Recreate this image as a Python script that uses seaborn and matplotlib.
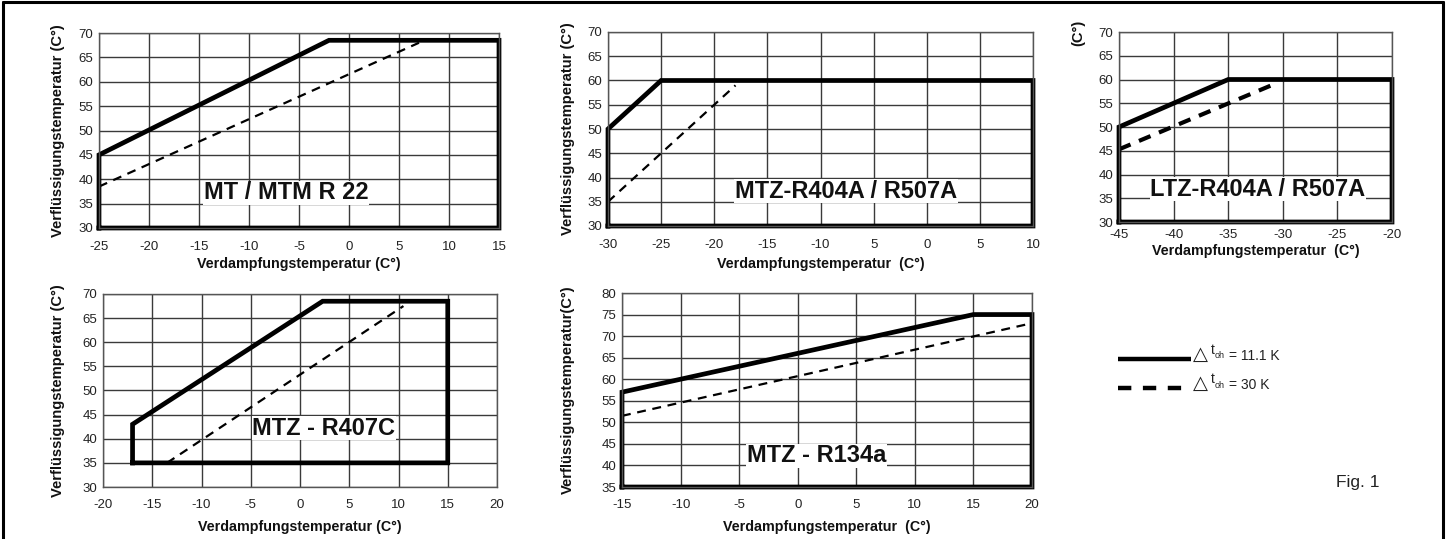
import matplotlib
matplotlib.use("Agg")
import matplotlib.pyplot as plt
from matplotlib.lines import Line2D
import seaborn as sns
import numpy as np

# ---------------- data ----------------
r22_solid_x = [-25, -25, -2, 15, 15, -25]
r22_solid_y = [30, 45, 68.5, 68.5, 30, 30]
r22_dash_x = [-25, 7]
r22_dash_y = [38.5, 68]

mtz404_solid_x = [-30, -30, -25, 10, 10, -30]
mtz404_solid_y = [30, 50, 60, 60, 30, 30]
mtz404_dash_x = [-30, -18]
mtz404_dash_y = [35, 59]

ltz404_solid_x = [-45, -45, -35, -20, -20, -45]
ltz404_solid_y = [30, 50, 60, 60, 30, 30]
ltz404_dash_x = [-45, -30.5]
ltz404_dash_y = [45.3, 59.3]

r407c_solid_x = [-17, -17, 2.3, 15, 15, -17]
r407c_solid_y = [35, 43, 68.5, 68.5, 35, 35]
r407c_dash_x = [-13.5, 10.5]
r407c_dash_y = [35, 67.5]

r134a_solid_x = [-15, -15, 15, 20, 20, -15]
r134a_solid_y = [35, 57, 75, 75, 35, 35]
r134a_dash_x = [-15, 20]
r134a_dash_y = [51.5, 73]

titles = ["MT / MTM R 22", "MTZ-R404A / R507A", "LTZ-R404A / R507A",
          "MTZ - R407C", "MTZ - R134a"]
xticks_r22 = list(range(-25, 16, 5))
xticks_404 = list(range(-30, 11, 5))
xticklabels_404 = ["-30", "-25", "-20", "-15", "-10", "5", "0", "5", "10"]
xticks_ltz = list(range(-45, -19, 5))
xticks_407 = list(range(-20, 21, 5))
xticks_134 = list(range(-15, 21, 5))
yticks_70 = list(range(30, 71, 5))
yticks_80 = list(range(35, 81, 5))

xlabel = "Verdampfungstemperatur (C°)"
xlabel_wide = "Verdampfungstemperatur  (C°)"
ylabel = "Verflüssigungstemperatur (C°)"
ylabel_tight = "Verflüssigungstemperatur(C°)"
legend_labels = ["= 11.1 K", "= 30 K"]

# ---------------- style ----------------
sns.set_style("white")
plt.rcParams["font.family"] = ["Liberation Sans", "DejaVu Sans"]
plt.rcParams["axes.unicode_minus"] = False

W, H = 1451, 539
fig = plt.figure(figsize=(W / 100, H / 100), dpi=100)


def add_ax(l, r, t, b):
    return fig.add_axes([l / W, 1 - b / H, (r - l) / W, (b - t) / H])


def style_ax(ax, xlim, ylim, xt, yt, xtl=None, xlab=xlabel, ylab=ylabel,
             xlab_off=29, ylab_off=34, xpad=9):
    ax.set_xlim(*xlim)
    ax.set_ylim(*ylim)
    ax.set_xticks(xt)
    ax.set_yticks(yt)
    if xtl is not None:
        ax.set_xticklabels(xtl)
    ax.grid(True, color="#3a3a3a", lw=1.0)
    ax.set_axisbelow(True)
    for s in ax.spines.values():
        s.set_color("#555555")
        s.set_linewidth(1.0)
    ax.tick_params(length=0, labelsize=9.5, colors="#222222")
    ax.tick_params(axis="x", pad=xpad)
    ax.tick_params(axis="y", pad=4)
    bb = ax.get_position()
    hpx = bb.height * H
    wpx = bb.width * W
    ax.set_xlabel(xlab, fontsize=10.3, fontweight="bold", color="#111111")
    ax.xaxis.set_label_coords(0.5, -xlab_off / hpx)
    if ylab:
        ax.set_ylabel(ylab, fontsize=10.6, fontweight="bold", color="#111111")
        ax.yaxis.set_label_coords(-ylab_off / wpx, 0.5)
    else:
        ax.set_ylabel("")


def draw(ax, sx, sy, dx, dy, dlw=1.6, dpat=(4, 3)):
    sns.lineplot(x=sx, y=sy, sort=False, estimator=None, ax=ax, color="black",
                 lw=3.4, clip_on=False, solid_joinstyle="miter",
                 solid_capstyle="projecting")
    sns.lineplot(x=dx, y=dy, sort=False, estimator=None, ax=ax, color="black",
                 lw=dlw, linestyle=(0, dpat), clip_on=False)


def title(ax, x, y, s):
    ax.text(x, y, s, fontsize=17, fontweight="bold", ha="center", va="center",
            color="#111111", zorder=5,
            bbox=dict(facecolor="white", edgecolor="none", pad=0.3))


# Panel 1
ax1 = add_ax(99, 499, 33, 228)
draw(ax1, r22_solid_x, r22_solid_y, r22_dash_x, r22_dash_y)
style_ax(ax1, (-25, 15), (30, 70), xticks_r22, yticks_70, xlab_off=29)
title(ax1, -6.3, 37.2, titles[0])

# Panel 2
ax2 = add_ax(608, 1033, 32, 226)
draw(ax2, mtz404_solid_x, mtz404_solid_y, mtz404_dash_x, mtz404_dash_y)
style_ax(ax2, (-30, 10), (30, 70), xticks_404, yticks_70, xtl=xticklabels_404,
         xlab=xlabel_wide, xlab_off=31, ylab_off=33)
title(ax2, -7.6, 37.2, titles[1])

# Panel 3
ax3 = add_ax(1119, 1392, 32, 222)
draw(ax3, ltz404_solid_x, ltz404_solid_y, ltz404_dash_x, ltz404_dash_y,
     dlw=3.0, dpat=(3, 2.2))
style_ax(ax3, (-45, -20), (30, 70), xticks_ltz, yticks_70, xlab=xlabel_wide,
         ylab=None, xlab_off=22, xpad=5)
title(ax3, -32.3, 36.9, titles[2])
fig.text(1078 / W, 1 - 33 / H, "(C°)", rotation=90, fontsize=10.6,
         fontweight="bold", ha="center", va="center", color="#111111")

# Panel 4
ax4 = add_ax(103, 497, 294, 487)
draw(ax4, r407c_solid_x, r407c_solid_y, r407c_dash_x, r407c_dash_y)
style_ax(ax4, (-20, 20), (30, 70), xticks_407, yticks_70, xlab_off=33,
         ylab_off=38)
title(ax4, 2.4, 42.2, titles[3])

# Panel 5
ax5 = add_ax(622, 1032, 293, 487)
draw(ax5, r134a_solid_x, r134a_solid_y, r134a_dash_x, r134a_dash_y)
style_ax(ax5, (-15, 20), (35, 80), xticks_134, yticks_80, xlab=xlabel_wide,
         ylab=ylabel_tight, xlab_off=33, ylab_off=47)
title(ax5, 1.6, 42.2, titles[4])

# Legend (figure-level)
fig.add_artist(Line2D([1118 / W, 1191 / W], [1 - 359 / H, 1 - 359 / H],
                      color="black", lw=3.2, solid_capstyle="butt"))
fig.add_artist(Line2D([1118 / W, 1191 / W], [1 - 388 / H, 1 - 388 / H],
                      color="black", lw=3.2, linestyle=(0, (3.0, 2.6)),
                      dash_capstyle="butt"))
for yy, lab in zip([359, 388], legend_labels):
    fig.text(1193 / W, 1 - (yy - 5) / H, "△", fontsize=14,
             family="DejaVu Sans", ha="left", va="center", color="#222222")
    fig.text(1211 / W, 1 - (yy - 9) / H, "t", fontsize=10,
             ha="left", va="center", color="#222222")
    fig.text(1215 / W, 1 - (yy - 3) / H, "oh", fontsize=6.5,
             ha="left", va="center", color="#222222")
    fig.text(1229 / W, 1 - (yy - 3) / H, lab, fontsize=10,
             ha="left", va="center", color="#222222")

fig.text(1358 / W, 1 - 482 / H, "Fig. 1", fontsize=12.5, ha="center",
         va="center", color="#222222")

# outer frame (top, left, right)
for xs, ys in [([3, 1443], [2, 2]), ([3, 3], [2, 545]), ([1443, 1443], [2, 545])]:
    fig.add_artist(Line2D([x / W for x in xs], [1 - y / H for y in ys],
                          color="black", lw=2.2))

fig.savefig("out.png", dpi=100, facecolor="white")
